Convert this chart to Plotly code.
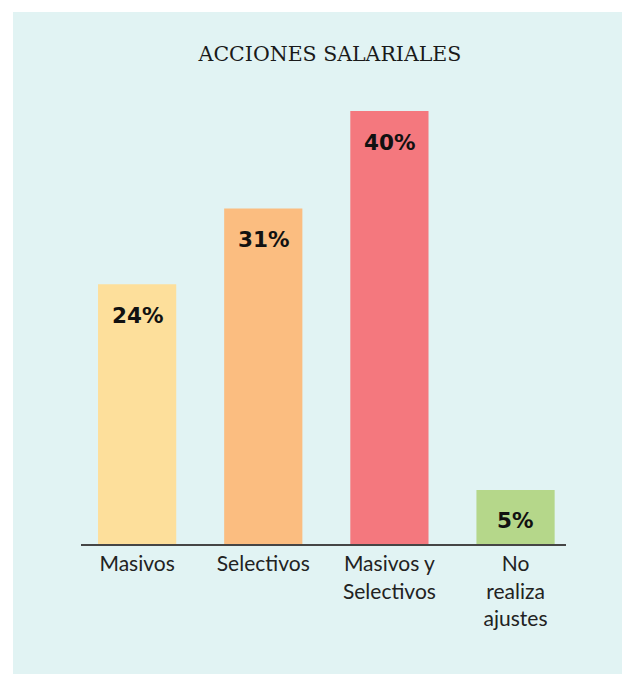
import plotly.graph_objects as go

categories = ["Masivos", "Selectivos", "Masivos y<br>Selectivos", "No<br>realiza<br>ajustes"]
values = [24, 31, 40, 5]
labels = ["24%", "31%", "40%", "5%"]
colors = ["#FDDF9B", "#FBBD80", "#F4787E", "#B5D78A"]

W, H = 630, 674
OFF = 8  # page body margin in the viewer
L, R, T, B = 81 - OFF, 630 - (566 - OFF), 57 - OFF, 674 - (544 - OFF)
pw, ph = W - L - R, H - T - B

fig = go.Figure()
fig.add_trace(go.Bar(
    x=categories, y=values, marker=dict(color=colors, line=dict(width=0)),
    width=0.62, hoverinfo="skip",
))

for c, v, t in zip(categories, values, labels):
    fig.add_annotation(x=c, y=v, text="<b>" + t + "</b>", showarrow=False,
                       yanchor="middle", yshift=-31,
                       font=dict(family="DejaVu Sans", size=21.5, color="#111111"))

fig.add_shape(type="rect", xref="paper", yref="paper",
              x0=(13 - OFF - L) / pw, x1=(W - L) / pw + 0.05,
              y0=-(H - T - ph) / ph - 0.05, y1=(T + ph - (12 - OFF)) / ph,
              fillcolor="#E1F3F3", line=dict(width=0), layer="below")

fig.update_layout(
    width=W, height=H,
    margin=dict(l=L, r=R, t=T, b=B, pad=0),
    paper_bgcolor="white", plot_bgcolor="rgba(0,0,0,0)",
    showlegend=False,
    title=dict(text="ACCIONES SALARIALES", x=(330 - OFF) / W, xanchor="center",
               y=1 - (54 - OFF) / H, yanchor="middle",
               font=dict(family="DejaVu Serif", size=20.5, color="#1a1a1a")),
    xaxis=dict(range=[-0.445, 3.40], showline=True, linecolor="#454545", linewidth=2,
               showgrid=False, zeroline=False, ticks="", fixedrange=True,
               tickfont=dict(family="Lato", size=21, color="#222222")),
    yaxis=dict(range=[0, 45], visible=False, fixedrange=True),
)

fig.write_html("out.html")
